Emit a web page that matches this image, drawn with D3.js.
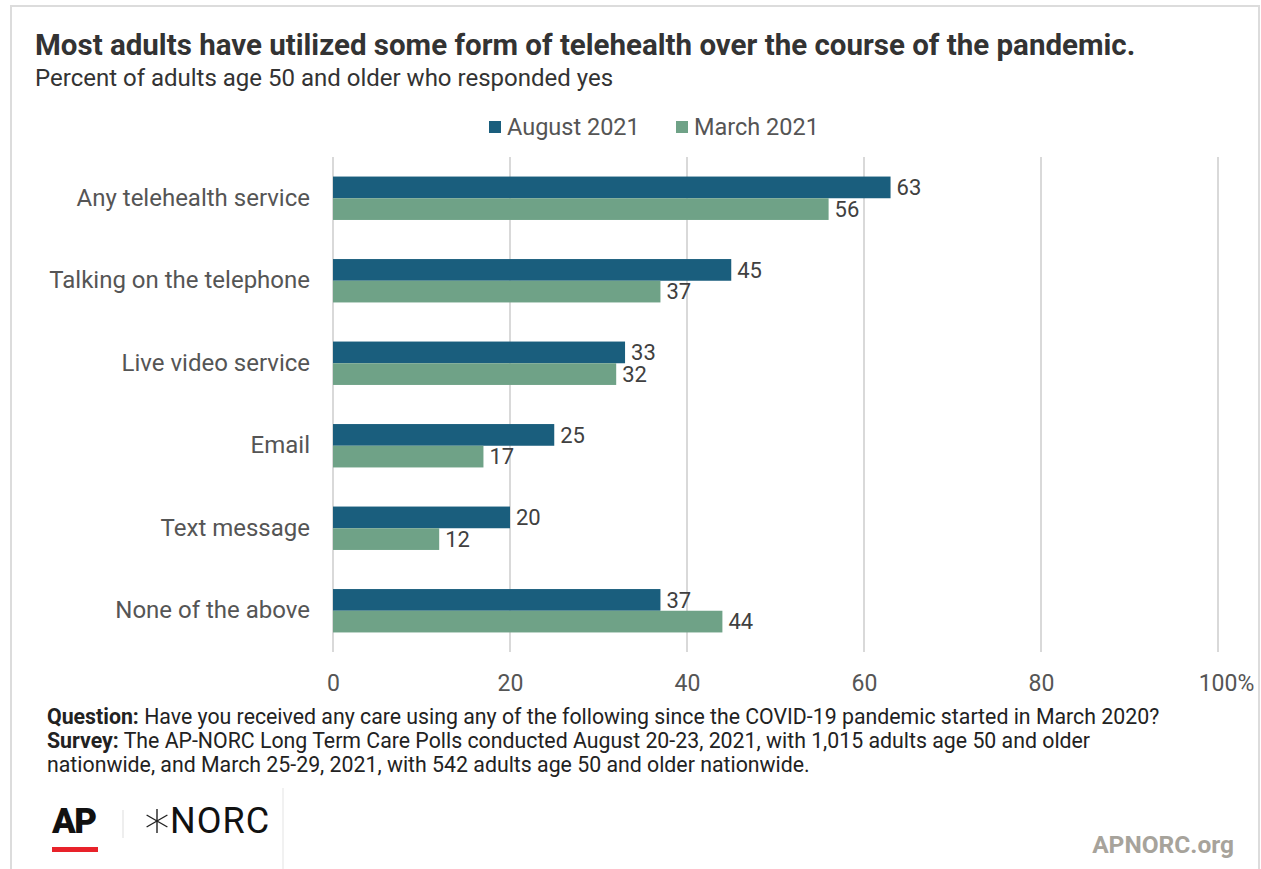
<!DOCTYPE html>
<html>
<head>
<meta charset="utf-8">
<script src="https://cdn.jsdelivr.net/npm/d3@7"></script>
<style>
  html, body { margin: 0; padding: 0; background: #fff; }
  svg { display: block; font-family: Roboto, "Noto Sans", sans-serif; }
</style>
</head>
<body>
<svg id="chart" width="1261" height="869"></svg>
<script>
const categories = ["Any telehealth service", "Talking on the telephone", "Live video service", "Email", "Text message", "None of the above"];
const seriesNames = ["August 2021", "March 2021"];
const august2021 = [63, 45, 33, 25, 20, 37];
const march2021 = [56, 37, 32, 17, 12, 44];
const xTicks = [0, 20, 40, 60, 80, 100];
const colors = ["#1a5e7d", "#6fa287"];

const svg = d3.select("#chart");

// outer frame
svg.append("rect").attr("x", 11).attr("y", 6).attr("width", 1248).attr("height", 900)
  .attr("fill", "none").attr("stroke", "#dcdcdc").attr("stroke-width", 2);

// title and subtitle
svg.append("text").attr("x", 35).attr("y", 55)
  .attr("font-size", 29.5).attr("font-weight", 700).attr("fill", "#333")
  .text("Most adults have utilized some form of telehealth over the course of the pandemic.");
svg.append("text").attr("x", 35).attr("y", 86)
  .attr("font-size", 24).attr("fill", "#333")
  .text("Percent of adults age 50 and older who responded yes");

// scales
const x = d3.scaleLinear().domain([0, 100]).range([333, 1218]);
const y = d3.scaleBand().domain(categories).range([157, 652]).paddingInner(0.474).paddingOuter(0.237);
const sub = d3.scaleBand().domain(seriesNames).range([0, y.bandwidth()]);

// gridlines
svg.append("g").selectAll("line").data(xTicks).join("line")
  .attr("x1", d => x(d)).attr("x2", d => x(d))
  .attr("y1", 157).attr("y2", 652)
  .attr("stroke", "#d9d9d9").attr("stroke-width", 2);

// x axis labels
const xAxis = d3.axisBottom(x).tickValues(xTicks).tickSize(0).tickPadding(0)
  .tickFormat(d => d === 100 ? "100%" : String(d));
const gx = svg.append("g").attr("transform", "translate(0,675)").call(xAxis);
gx.select(".domain").remove();
gx.selectAll("text").attr("font-size", 23).attr("fill", "#555").attr("font-family", "Roboto, sans-serif")
  .attr("dy", "0.71em")
  .attr("dx", d => d === 100 ? 8 : 0);

// y axis labels
const yAxis = d3.axisLeft(y).tickSize(0).tickPadding(23);
const gy = svg.append("g").attr("transform", "translate(333,0)").call(yAxis);
gy.select(".domain").remove();
gy.selectAll("text").attr("font-size", 24).attr("fill", "#555").attr("font-family", "Roboto, sans-serif");

// bars
const rows = categories.map((c, i) => ({ cat: c, vals: [august2021[i], march2021[i]] }));
const groups = svg.append("g").selectAll("g").data(rows).join("g")
  .attr("transform", d => `translate(0,${y(d.cat)})`);
groups.selectAll("rect").data(d => d.vals.map((v, j) => ({ v, s: seriesNames[j], j })))
  .join("rect")
  .attr("x", x(0)).attr("y", d => sub(d.s))
  .attr("width", d => x(d.v) - x(0)).attr("height", sub.bandwidth())
  .attr("fill", d => colors[d.j]);
groups.selectAll("text").data(d => d.vals.map((v, j) => ({ v, s: seriesNames[j], j })))
  .join("text")
  .attr("x", d => x(d.v) + 6).attr("y", d => sub(d.s) + sub.bandwidth() / 2)
  .attr("dy", "0.35em").attr("font-size", 22).attr("fill", "#404040")
  .text(d => d.v);

// legend
const legendX = [489, 676];
const leg = svg.append("g").selectAll("g").data(seriesNames).join("g")
  .attr("transform", (d, i) => `translate(${legendX[i]},121)`);
leg.append("rect").attr("width", 12).attr("height", 12).attr("fill", (d, i) => colors[i]);
leg.append("text").attr("x", 18).attr("y", 6).attr("dy", "0.35em")
  .attr("font-size", 23.5).attr("fill", "#555").text(d => d);

// footer notes
const notes = svg.append("g").attr("font-size", 21.3).attr("fill", "#222");
const q = notes.append("text").attr("x", 47).attr("y", 724);
q.append("tspan").attr("font-weight", 700).text("Question:");
q.append("tspan").text(" Have you received any care using any of the following since the COVID-19 pandemic started in March 2020?");
const s1 = notes.append("text").attr("x", 47).attr("y", 748);
s1.append("tspan").attr("font-weight", 700).text("Survey:");
s1.append("tspan").text(" The AP-NORC Long Term Care Polls conducted August 20-23, 2021, with 1,015 adults age 50 and older");
notes.append("text").attr("x", 47).attr("y", 772)
  .text("nationwide, and March 25-29, 2021, with 542 adults age 50 and older nationwide.");

// logos
const logo = svg.append("g");
logo.append("text").attr("x", 52).attr("y", 833).attr("font-size", 35).attr("font-weight", 900)
  .attr("fill", "#111").attr("letter-spacing", -1.5).attr("font-family", "Roboto, sans-serif").text("AP");
logo.append("rect").attr("x", 52).attr("y", 847).attr("width", 46).attr("height", 5).attr("fill", "#e8222a");
logo.append("line").attr("x1", 123).attr("x2", 123).attr("y1", 810).attr("y2", 838)
  .attr("stroke", "#ddd").attr("stroke-width", 1);
// NORC star (six thin strokes)
const star = logo.append("g").attr("transform", "translate(157,821)").attr("stroke", "#222").attr("stroke-width", 1.4);
[0, 60, 120].forEach(a => {
  const r = 12, t = a * Math.PI / 180 + Math.PI / 2;
  star.append("line").attr("x1", -r * Math.cos(t)).attr("y1", -r * Math.sin(t))
    .attr("x2", r * Math.cos(t)).attr("y2", r * Math.sin(t));
});
logo.append("text").attr("x", 170).attr("y", 833).attr("font-size", 36).attr("fill", "#111")
  .attr("letter-spacing", 1).attr("font-family", "Roboto, sans-serif").text("NORC");
logo.append("line").attr("x1", 283).attr("x2", 283).attr("y1", 788).attr("y2", 869)
  .attr("stroke", "#e3e3e3").attr("stroke-width", 1);

svg.append("text").attr("x", 1234).attr("y", 853).attr("text-anchor", "end")
  .attr("font-size", 24.5).attr("font-weight", 700).attr("fill", "#a7a39b")
  .text("APNORC.org");
</script>
</body>
</html>
